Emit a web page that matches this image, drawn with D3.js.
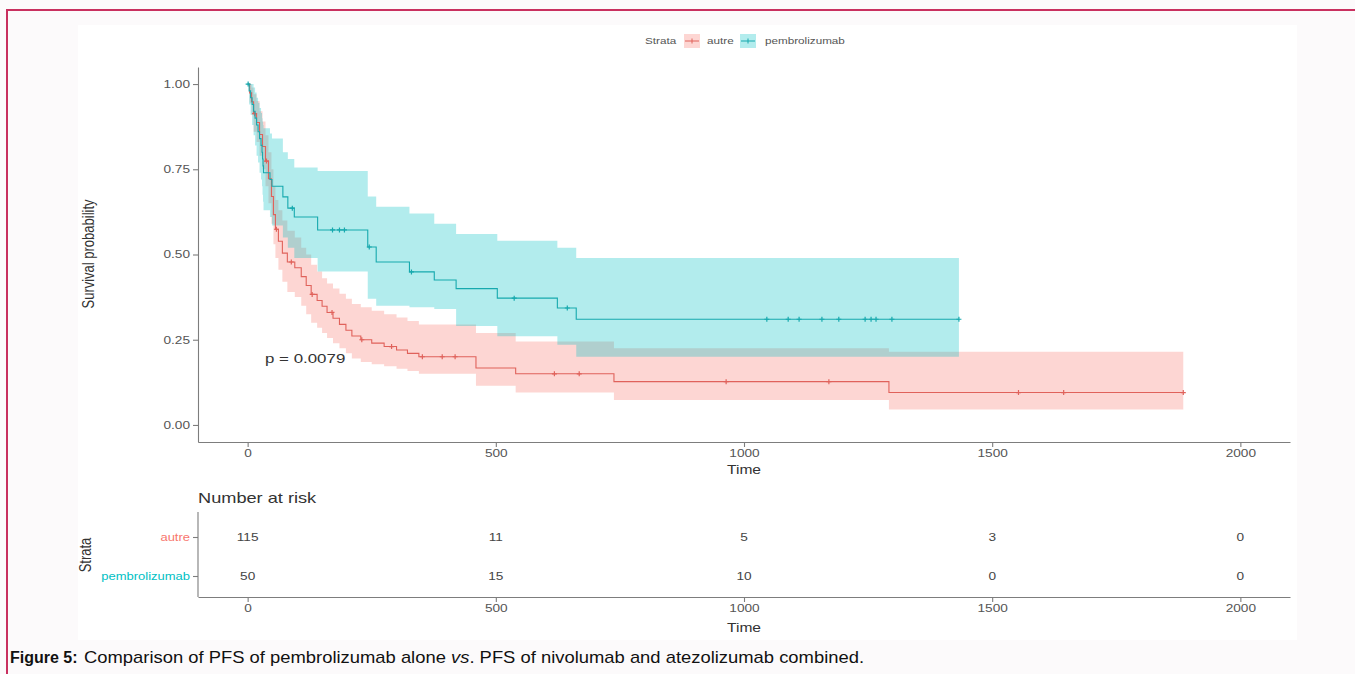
<!DOCTYPE html>
<html><head><meta charset="utf-8">
<script src="https://cdn.jsdelivr.net/npm/d3@7"></script>
<style>
html,body{margin:0;padding:0;background:#fcfafb;}
svg{display:block;}
</style>
</head><body>
<svg id="chart" width="1355" height="674"></svg>
<script>
// ---------------- DATA ----------------
const strata = ["autre", "pembrolizumab"];

const autreTime  = [0,4,8,12,18,24,30,36,42,48,52,56,62,70,80,95,108,118,128,140,150,160,172,185,198,210,228,250,275,300,322,345,460,540,738,1292];
const autreSurv  = [1,.974,.948,.913,.887,.852,.817,.774,.722,.670,.617,.574,.539,.504,.478,.461,.435,.409,.383,.365,.348,.330,.313,.295,.278,.261,.250,.240,.230,.220,.210,.200,.167,.150,.127,.095];
const autreUpper = [1,1,.99,.97,.95,.92,.89,.85,.80,.75,.70,.66,.63,.60,.57,.55,.52,.50,.47,.45,.43,.415,.40,.385,.37,.355,.345,.335,.325,.315,.305,.295,.27,.245,.225,.215];
const autreLower = [1,.945,.91,.86,.83,.79,.75,.70,.65,.59,.53,.49,.455,.42,.39,.375,.35,.325,.30,.285,.27,.255,.24,.225,.21,.195,.185,.178,.172,.165,.158,.15,.115,.095,.073,.045];
const autreEnd = 1885;
const autreCensor = [14,38,58,88,130,170,230,290,352,392,418,618,668,964,1171,1553,1644,1885];

const pembroTime  = [0,3,6,9,12,15,18,21,24,27,29,30,31,32,45,49,71,81,94,141,242,259,326,376,420,503,624,662];
const pembroSurv  = [1,.98,.96,.94,.92,.90,.88,.86,.84,.82,.80,.78,.76,.74,.72,.70,.669,.636,.61,.572,.522,.478,.449,.425,.40,.372,.343,.31];
const pembroUpper = [1,1,1,1,.99,.975,.96,.945,.93,.915,.90,.89,.88,.87,.855,.84,.80,.78,.755,.745,.67,.64,.62,.59,.56,.54,.52,.49];
const pembroLower = [1,.94,.91,.88,.85,.82,.79,.77,.74,.72,.70,.675,.655,.63,.61,.585,.55,.52,.49,.45,.37,.35,.345,.34,.29,.26,.235,.20];
const pembroEnd = 1433;
const pembroCensor = [1,90,171,185,195,245,330,537,644,1046,1089,1111,1157,1191,1244,1256,1266,1298,1433];

const xTicks = [0,500,1000,1500,2000];
const yTicks = [0,0.25,0.5,0.75,1];
const riskTimes = [0,500,1000,1500,2000];
const riskAutre = [115,11,5,3,0];
const riskPembro = [50,15,10,0,0];
const pLabel = "p = 0.0079";

// ---------------- STYLE ----------------
const FONT = "'Liberation Sans', Arial, Helvetica, sans-serif";
const SX = 1.3;
const colors = {autre: "#F8766D", pembrolizumab: "#00BFC4"};
const lineColors = {autre: "#e0625b", pembrolizumab: "#17a9ae"};
const axisColor = "#7d7d7d";

const svg = d3.select("#chart").attr("font-family", FONT);

// background + frame
svg.append("rect").attr("x",78).attr("y",25).attr("width",1219).attr("height",615).attr("fill","#ffffff");
svg.append("line").attr("x1",6).attr("x2",1355).attr("y1",10).attr("y2",10).attr("stroke","#c9305f").attr("stroke-width",2);
svg.append("line").attr("x1",7).attr("x2",7).attr("y1",9).attr("y2",674).attr("stroke","#c9305f").attr("stroke-width",2);

function stext(sel, x, y, s, size, anchor, color, rot) {
  return sel.append("text")
    .attr("transform", `translate(${x},${y}) scale(${SX},1)` + (rot ? ` rotate(${rot})` : ""))
    .attr("text-anchor", anchor).attr("dy","0.35em")
    .attr("font-size", size).attr("fill", color).text(s);
}

// ---------------- SCALES ----------------
const x = d3.scaleLinear().domain([-100, 2100]).range([198, 1290]);
const y = d3.scaleLinear().domain([-0.05, 1.05]).range([442, 67]);

const series = [
  {name:"autre", t:autreTime, s:autreSurv, u:autreUpper, l:autreLower, end:autreEnd, c:autreCensor},
  {name:"pembrolizumab", t:pembroTime, s:pembroSurv, u:pembroUpper, l:pembroLower, end:pembroEnd, c:pembroCensor}
];
series.forEach(d => {
  d.pts = d.t.map((t,i) => ({t, s:d.s[i], u:d.u[i], l:d.l[i]}));
  const last = d.pts[d.pts.length-1];
  d.pts.push({t:d.end, s:last.s, u:last.u, l:last.l});
  d.survAt = tt => { let v = 1; d.t.forEach((t,i) => { if (t <= tt) v = d.s[i]; }); return v; };
});

const area = d3.area().curve(d3.curveStepAfter).x(p => x(p.t)).y0(p => y(p.l)).y1(p => y(p.u));
const line = d3.line().curve(d3.curveStepAfter).x(p => x(p.t)).y(p => y(p.s));

const plot = svg.append("g");
series.forEach(d => {
  plot.append("path").attr("d", area(d.pts)).attr("fill", colors[d.name]).attr("fill-opacity", 0.3);
});
series.forEach(d => {
  plot.append("path").attr("d", line(d.pts)).attr("fill","none").attr("stroke", lineColors[d.name]).attr("stroke-width",1.1);
  const cs = plot.append("g");
  d.c.forEach(t => {
    const cx = x(t), cy = y(d.survAt(t));
    cs.append("path").attr("d", `M${cx-2.5},${cy}H${cx+2.5}M${cx},${cy-2.5}V${cy+2.5}`)
      .attr("stroke", lineColors[d.name]).attr("stroke-width",1.2);
  });
});

// axes main
function styleAxis(g) {
  g.selectAll("path.domain").attr("stroke", axisColor).attr("stroke-width",1.1);
  g.selectAll(".tick line").attr("stroke", axisColor).attr("stroke-width",1.1);
  g.selectAll(".tick text").attr("fill","#555").attr("font-size",10.5).attr("font-family",FONT);
}
const yAxis = svg.append("g").attr("transform","translate(198,0)")
  .call(d3.axisLeft(y).tickValues(yTicks).tickFormat(d3.format(".2f")).tickSize(5).tickSizeOuter(0).tickPadding(3));
styleAxis(yAxis);
yAxis.selectAll(".tick text").attr("x", -8/SX).attr("transform", `scale(${SX},1)`);

const xAxis = svg.append("g").attr("transform","translate(0,442)")
  .call(d3.axisBottom(x).tickValues(xTicks).tickFormat(d3.format("d")).tickSize(5).tickSizeOuter(0).tickPadding(3));
styleAxis(xAxis);
xAxis.selectAll(".tick text").attr("transform", `scale(${SX},1)`);

stext(svg, 744, 470, "Time", 12, "middle", "#333");
stext(svg, 88, 254, "Survival probability", 13, "middle", "#333", -90);
stext(svg, 265, 358, pLabel, 13, "start", "#333");

// legend
const lg = svg.append("g");
stext(lg, 645, 41, "Strata", 9, "start", "#555");
[["autre",684,707],["pembrolizumab",740,765]].forEach(([n,kx,tx]) => {
  lg.append("rect").attr("x",kx).attr("y",34).attr("width",16).attr("height",14).attr("fill",colors[n]).attr("fill-opacity",0.3);
  lg.append("line").attr("x1",kx+1).attr("x2",kx+15).attr("y1",41).attr("y2",41).attr("stroke",lineColors[n]).attr("stroke-width",1);
  lg.append("path").attr("d",`M${kx+8},${38.5}V${43.5}`).attr("stroke",lineColors[n]).attr("stroke-width",1);
  stext(lg, tx, 41, n, 9, "start", "#555");
});

// ---------------- RISK TABLE ----------------
const yr = d3.scalePoint().domain(strata).range([537, 576]);
const riskVals = {autre: riskAutre, pembrolizumab: riskPembro};
stext(svg, 198, 498, "Number at risk", 14, "start", "#333");
svg.append("line").attr("x1",198).attr("x2",198).attr("y1",512).attr("y2",597).attr("stroke",axisColor).attr("stroke-width",1.1);
const yrAxis = svg.append("g").attr("transform","translate(198,0)")
  .call(d3.axisLeft(yr).tickSize(5).tickPadding(3));
styleAxis(yrAxis);
yrAxis.select("path.domain").remove();
yrAxis.selectAll(".tick text").attr("x", -8/SX).attr("transform", `scale(${SX},1)`)
  .attr("fill", d => colors[d]).attr("font-size",10);
const xrAxis = svg.append("g").attr("transform","translate(0,597)")
  .call(d3.axisBottom(x).tickValues(xTicks).tickFormat(d3.format("d")).tickSize(5).tickSizeOuter(0).tickPadding(3));
styleAxis(xrAxis);
xrAxis.selectAll(".tick text").attr("transform", `scale(${SX},1)`);
strata.forEach(sn => {
  riskTimes.forEach((t,i) => {
    stext(svg, x(t), yr(sn), String(riskVals[sn][i]), 10.5, "middle", "#444");
  });
});
stext(svg, 744, 628, "Time", 12, "middle", "#333");
stext(svg, 85, 555, "Strata", 13, "middle", "#333", -90);

// ---------------- CAPTION ----------------
const capFont = "'Liberation Sans', Arial, sans-serif";
svg.append("text").attr("x", 10).attr("y", 663).attr("font-size", 16).attr("fill", "#111")
  .attr("font-family", capFont).attr("font-weight","bold").text("Figure 5:");
const cap = svg.append("text").attr("transform", "translate(84,663) scale(1.15,1)")
  .attr("font-size", 16).attr("fill", "#111").attr("font-family", capFont).attr("xml:space","preserve");
cap.append("tspan").text("Comparison of PFS of pembrolizumab alone ");
cap.append("tspan").attr("font-style","italic").text("vs");
cap.append("tspan").text(". PFS of nivolumab and atezolizumab combined.");
</script>
</body></html>
